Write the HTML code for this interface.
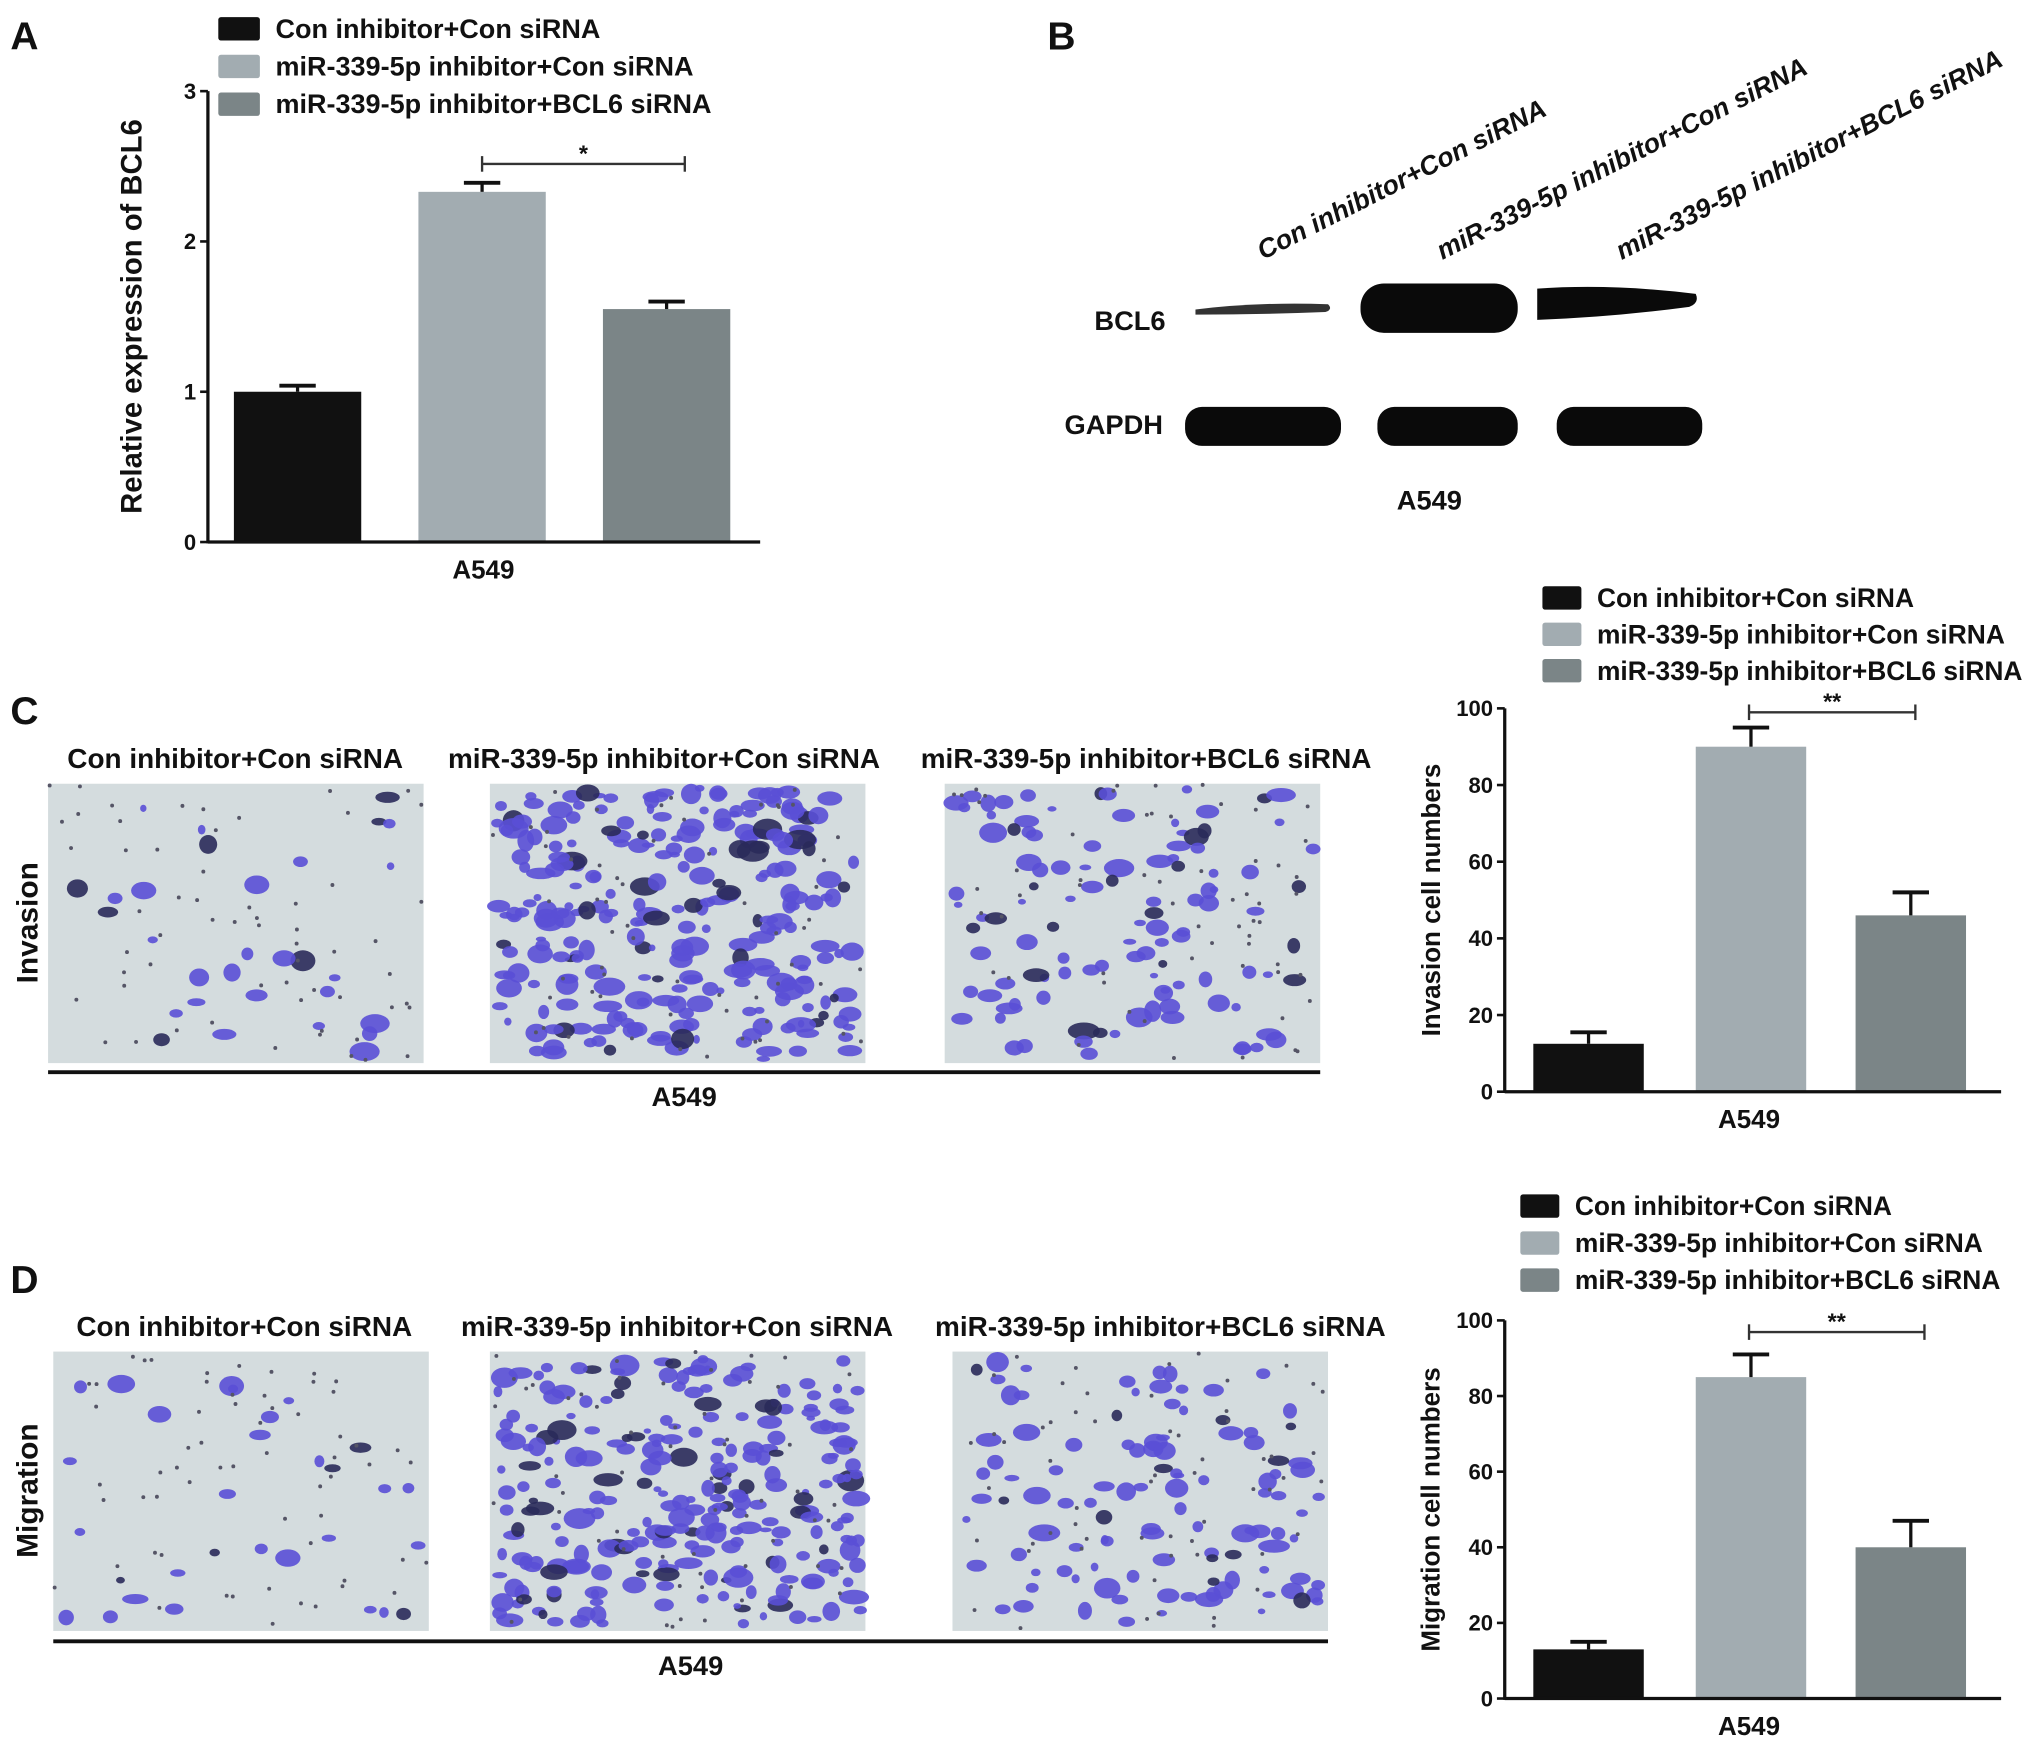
<!DOCTYPE html>
<html><head><meta charset="utf-8"><style>
html,body{margin:0;padding:0;background:#fff;}
svg{display:block;font-family:"Liberation Sans",sans-serif;font-weight:bold;}
</style></head><body>
<svg id="fig" xmlns="http://www.w3.org/2000/svg" width="2031" height="1739" viewBox="0 0 1563 1338">
<rect width="1563" height="1338" fill="#fff"/>
<g id="root"></g>
</svg>
<script>
// ---- data ----
const groups = ["Con inhibitor+Con siRNA","miR-339-5p inhibitor+Con siRNA","miR-339-5p inhibitor+BCL6 siRNA"];
const colors = ["#111111","#a2acb1","#7b8587"];
const bcl6Values = [1.0, 2.33, 1.55];
const bcl6Errors = [0.04, 0.06, 0.05];
const bcl6Ticks = [0,1,2,3];
const invasionValues = [12.5, 90, 46];
const invasionErrors = [3, 5, 6];
const migrationValues = [13, 85, 40];
const migrationErrors = [2, 6, 7];
const countTicks = [0,20,40,60,80,100];

const NS="http://www.w3.org/2000/svg";
const root=document.getElementById('root');
function el(tag,attrs,parent,text){
  const e=document.createElementNS(NS,tag);
  for(const k in attrs)e.setAttribute(k,attrs[k]);
  if(text!==undefined)e.textContent=text;
  (parent||root).appendChild(e);return e;
}

function barChart(o){
  const g=el('g',{});
  
  
  const y=v=>o.y0-(v-o.min)/(o.max-o.min)*(o.y0-o.yTop);
  o.values.forEach((v,i)=>{
    const x=o.barX[i];
    const b=el('rect',{x:x,y:y(v),width:o.bw,height:o.y0-y(v),fill:colors[i]},g);
    
    
    const cx=x+o.bw/2, ye=y(v+o.errors[i]);
    const e1=el('line',{x1:cx,x2:cx,y1:y(v),y2:ye,stroke:'#111','stroke-width':2.5},g);
    
    
    el('line',{x1:cx-14,x2:cx+14,y1:ye,y2:ye,stroke:'#111','stroke-width':3},g);
  });
  const ya=el('line',{x1:o.ax,x2:o.ax,y1:o.yTop,y2:o.y0+1,stroke:'#111','stroke-width':2.5},g);
  
  
  const xa=el('line',{x1:o.ax,x2:o.xEnd,y1:o.y0,y2:o.y0,stroke:'#111','stroke-width':2.5},g);
  
  
  o.ticks.forEach(t=>{
    el('line',{x1:o.ax-6,x2:o.ax,y1:y(t),y2:y(t),stroke:'#111','stroke-width':2},g);
    const tl=el('text',{x:o.ax-9,y:y(t)+6,'text-anchor':'end','font-size':17,fill:'#111'},g,String(t));
    
    
  });
  const yt=el('text',{x:o.titleX,y:(o.y0+o.yTop)/2,'text-anchor':'middle','font-size':o.titleSize,fill:'#111',transform:`rotate(-90 ${o.titleX} ${(o.y0+o.yTop)/2})`},g,o.title);
  
  
  const xl=el('text',{x:o.xlX,y:o.y0+28,'text-anchor':'middle','font-size':20,fill:'#111'},g,'A549');
  
  
  const sb=el('line',{x1:o.sig[0],x2:o.sig[1],y1:o.sig[2],y2:o.sig[2],stroke:'#333','stroke-width':1.8},g);
  
  
  el('line',{x1:o.sig[0],x2:o.sig[0],y1:o.sig[2]-6,y2:o.sig[2]+6,stroke:'#333','stroke-width':1.8},g);
  el('line',{x1:o.sig[1],x2:o.sig[1],y1:o.sig[2]-6,y2:o.sig[2]+6,stroke:'#333','stroke-width':1.8},g);
  const st=el('text',{x:(o.sig[0]+o.sig[1])/2,y:o.sig[2]-2,'text-anchor':'middle','font-size':18,fill:'#111'},g,o.star);
  
  
  groups.forEach((name,i)=>{
    const ly=o.legY+i*o.legStep;
    const le=el('g',{},g);
    
    
    el('rect',{x:o.legX,y:ly-9,width:o.legW,height:18,fill:colors[i],rx:2},le);
    el('text',{x:o.legX+o.legW+12,y:ly+7,'font-size':o.legSize,fill:'#111'},le,name);
  });
}

barChart({name:'bcl6-expression-chart',values:bcl6Values,errors:bcl6Errors,ticks:bcl6Ticks,min:0,max:3,
  y0:417,yTop:70,ax:160,xEnd:585,barX:[180,322,464],bw:98,title:'Relative expression of BCL6',titleX:109,titleSize:22.5,
  xlX:372,sig:[371,527,126],star:'*',legX:168,legY:22,legStep:29,legW:32,legSize:20.8});
barChart({name:'invasion-chart',values:invasionValues,errors:invasionErrors,ticks:countTicks,min:0,max:100,
  y0:840,yTop:545,ax:1158,xEnd:1540,barX:[1180,1305,1428],bw:85,title:'Invasion cell numbers',titleX:1108,titleSize:20,
  xlX:1346,sig:[1346,1474,548],star:'**',legX:1187,legY:460,legStep:28,legW:30,legSize:20.3});
barChart({name:'migration-chart',values:migrationValues,errors:migrationErrors,ticks:countTicks,min:0,max:100,
  y0:1307,yTop:1016,ax:1158,xEnd:1540,barX:[1180,1305,1428],bw:85,title:'Migration cell numbers',titleX:1108,titleSize:20,
  xlX:1346,sig:[1346,1481,1025],star:'**',legX:1170,legY:928,legStep:28.5,legW:30,legSize:20.3});

[['A',8,38],['B',806,38],['C',8,557],['D',8,995]].forEach(p=>{
  const t=el('text',{x:p[1],y:p[2],'font-size':30,fill:'#111'},root,p[0]);
  
  
});

const wb=el('g',{});


const laneX=[972,1110,1248];
groups.forEach((n,i)=>{
  const t=el('text',{x:laneX[i],y:200,'font-size':20.5,'font-style':'italic',fill:'#111',transform:`rotate(-27 ${laneX[i]} 200)`},wb,n);
  
  
});
el('text',{x:897,y:254,'font-size':21,'text-anchor':'end',fill:'#111'},wb,'BCL6');
el('text',{x:895,y:334,'font-size':21,'text-anchor':'end',fill:'#111'},wb,'GAPDH');
el('text',{x:1100,y:392,'font-size':21,'text-anchor':'middle',fill:'#111'},wb,'A549');
el('path',{d:'M920 238 Q970 232 1022 234 Q1026 238 1020 240 Q970 242 920 242Z',fill:'#333'},wb);
el('rect',{x:1047,y:218,width:121,height:38,rx:18,fill:'#0a0a0a'},wb);
el('path',{d:'M1183 222 Q1240 218 1305 226 Q1308 233 1300 236 Q1240 244 1183 246Z',fill:'#0a0a0a'},wb);
[[912,120],[1060,108],[1198,112]].forEach(b=>el('rect',{x:b[0],y:313,width:b[1],height:30,rx:13,fill:'#0a0a0a'},wb));

let seed=7;function rnd(){seed=(seed*16807)%2147483647;return seed/2147483647;}
function micro(x,y,w,h,n,name){
  const g=el('g',{});
  
  
  el('rect',{x:x,y:y,width:w,height:h,fill:'#d4dcde'},g);
  for(let i=0;i<n;i++){
    const r=3+rnd()*5;
    el('ellipse',{cx:x+r+rnd()*(w-2*r),cy:y+r+rnd()*(h-2*r),rx:r*(0.8+rnd()*0.8),ry:r*(0.6+rnd()*0.5),fill:rnd()<0.85?'#5a4fd6':'#2a2a5a',opacity:0.9},g);
  }
  for(let i=0;i<60;i++)el('circle',{cx:x+rnd()*w,cy:y+rnd()*h,r:1.5,fill:'#556'},g);
}
function row(y0,lineY,boxes,counts,titlesX,titleY,side,prefix){
  boxes.forEach((b,i)=>micro(b,y0,289,215,counts[i],prefix+'-image-'+(i+1)));
  groups.forEach((n,i)=>{
    const t=el('text',{x:titlesX[i],y:titleY,'text-anchor':'middle','font-size':21.5,fill:'#111'},root,n);
    
    
  });
  el('line',{x1:boxes[0],x2:boxes[2]+289,y1:lineY,y2:lineY,stroke:'#111','stroke-width':3});
  el('text',{x:(boxes[0]+boxes[2]+289)/2,y:lineY+26,'text-anchor':'middle','font-size':21,fill:'#111'},root,'A549');
  const s=el('text',{x:29,y:(y0+107),'text-anchor':'middle','font-size':23,fill:'#111',transform:`rotate(-90 29 ${y0+107})`},root,side);
  
  
}
row(603,825,[37,377,727],[30,260,110],[181,511,882],591,'Invasion','invasion');
row(1040,1263,[41,377,733],[30,260,110],[188,521,893],1028,'Migration','migration');
</script>
</body></html>
